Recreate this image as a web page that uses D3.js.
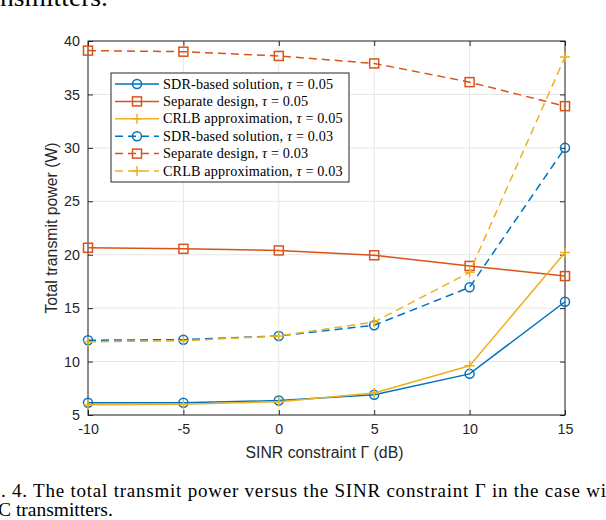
<!DOCTYPE html>
<html>
<head>
<meta charset="utf-8">
<script src="https://d3js.org/d3.v7.min.js"></script>
<style>
  body { margin: 0; background: #fff; }
  svg { display: block; }
</style>
</head>
<body>
<div id="chart"></div>
<script>
// SINR constraint (dB)
var snr = [-10, -5, 0, 5, 10, 15];

// total transmit power (W)
var sdr05  = [6.15, 6.15, 6.35, 6.9, 8.85, 15.6];
var sep05  = [20.65, 20.55, 20.4, 19.95, 18.95, 18.0];
var crlb05 = [5.95, 6.0, 6.25, 7.05, 9.6, 20.2];
var sdr03  = [12.0, 12.05, 12.4, 13.4, 16.95, 30.0];
var sep03  = [39.1, 39.0, 38.6, 37.9, 36.15, 33.9];
var crlb03 = [11.85, 11.95, 12.4, 13.7, 18.35, 38.5];

var xTicks = [-10, -5, 0, 5, 10, 15];
var yTicks = [5, 10, 15, 20, 25, 30, 35, 40];

var series = [
  {name: "SDR-based solution, ", tau: "0.05", values: sdr05,  color: "#0072BD", dash: null, marker: "circle"},
  {name: "Separate design, ",    tau: "0.05", values: sep05,  color: "#D95319", dash: null, marker: "square"},
  {name: "CRLB approximation, ", tau: "0.05", values: crlb05, color: "#EDB120", dash: null, marker: "plus"},
  {name: "SDR-based solution, ", tau: "0.03", values: sdr03,  color: "#0072BD", dash: "8,5", marker: "circle"},
  {name: "Separate design, ",    tau: "0.03", values: sep03,  color: "#D95319", dash: "8,5", marker: "square"},
  {name: "CRLB approximation, ", tau: "0.03", values: crlb03, color: "#EDB120", dash: "8,5", marker: "plus"}
];

var W = 606, H = 520;
var margin = {top: 41, right: 41, bottom: 105, left: 88};
var width = W - margin.left - margin.right;
var height = H - margin.top - margin.bottom;

var svg = d3.select("#chart").append("svg")
    .attr("width", W)
    .attr("height", H);

// caption fragments of the surrounding page (cut by the crop, as in the reference)
var serif = "'Liberation Serif', 'Times New Roman', serif";
svg.append("text")
    .attr("x", 0).attr("y", 6)
    .attr("textLength", 108).attr("lengthAdjust", "spacingAndGlyphs")
    .style("font-family", serif).style("font-size", "26px")
    .text("nsmitters.");
svg.append("text")
    .attr("x", 1).attr("y", 497)
    .attr("textLength", 605).attr("lengthAdjust", "spacing")
    .style("font-family", serif).style("font-size", "19px")
    .text(". 4. The total transmit power versus the SINR constraint \u0393 in the case wi");
svg.append("text")
    .attr("x", -2).attr("y", 516)
    .style("font-family", serif).style("font-size", "19.5px")
    .text("C transmitters.");

var g = svg.append("g")
    .attr("transform", "translate(" + margin.left + "," + margin.top + ")");

var x = d3.scaleLinear().domain([-10, 15]).range([0, width]);
var y = d3.scaleLinear().domain([5, 40]).range([height, 0]);

// grid
g.append("g").selectAll("line").data(xTicks).enter().append("line")
    .attr("x1", function(d) { return x(d); }).attr("x2", function(d) { return x(d); })
    .attr("y1", 0).attr("y2", height)
    .attr("stroke", "#e6e6e6").attr("stroke-width", 1);
g.append("g").selectAll("line").data(yTicks).enter().append("line")
    .attr("y1", function(d) { return y(d); }).attr("y2", function(d) { return y(d); })
    .attr("x1", 0).attr("x2", width)
    .attr("stroke", "#e6e6e6").attr("stroke-width", 1);

// axes (MATLAB style: ticks inside, box on)
var sans = "'Liberation Sans', Arial, sans-serif";
var axColor = "#262626";
var fmt = function(d) { return String(d); };

function styleAxis(sel) {
  sel.select(".domain").remove();
  sel.selectAll(".tick line").attr("stroke", axColor).attr("stroke-width", 1);
  sel.selectAll(".tick text").style("font-family", sans).style("font-size", "14.3px").attr("fill", axColor);
}

g.append("g").attr("transform", "translate(0," + height + ")")
    .call(d3.axisBottom(x).tickValues(xTicks).tickSizeInner(-5).tickSizeOuter(0).tickPadding(9).tickFormat(fmt))
    .call(styleAxis);
g.append("g")
    .call(d3.axisTop(x).tickValues(xTicks).tickSizeInner(-5).tickSizeOuter(0).tickFormat(""))
    .call(styleAxis);
g.append("g")
    .call(d3.axisLeft(y).tickValues(yTicks).tickSizeInner(-5).tickSizeOuter(0).tickPadding(8).tickFormat(fmt))
    .call(styleAxis);
g.append("g").attr("transform", "translate(" + width + ",0)")
    .call(d3.axisRight(y).tickValues(yTicks).tickSizeInner(-5).tickSizeOuter(0).tickFormat(""))
    .call(styleAxis);

g.append("rect")
    .attr("width", width).attr("height", height)
    .attr("fill", "none").attr("stroke", axColor).attr("stroke-width", 1);

// axis labels
g.append("text")
    .attr("x", width / 2 - 2).attr("y", height + 43)
    .attr("text-anchor", "middle")
    .style("font-family", sans).style("font-size", "15.8px").attr("fill", axColor)
    .text("SINR constraint \u0393 (dB)");
g.append("text")
    .attr("transform", "translate(-31," + (height / 2) + ") rotate(-90)")
    .attr("text-anchor", "middle")
    .style("font-family", sans).style("font-size", "15.8px").attr("fill", axColor)
    .text("Total transmit power (W)");

function drawMarker(sel, s, cx, cy) {
  if (s.marker === "circle") {
    sel.append("circle").attr("cx", cx).attr("cy", cy).attr("r", 4.5)
      .attr("fill", "none").attr("stroke", s.color).attr("stroke-width", 1.5);
  } else if (s.marker === "square") {
    sel.append("rect").attr("x", cx - 4.5).attr("y", cy - 4.5).attr("width", 9).attr("height", 9)
      .attr("fill", "none").attr("stroke", s.color).attr("stroke-width", 1.5);
  } else {
    sel.append("path").attr("d", "M" + (cx - 5) + "," + cy + "H" + (cx + 5) + "M" + cx + "," + (cy - 5) + "V" + (cy + 5))
      .attr("fill", "none").attr("stroke", s.color).attr("stroke-width", 1.5);
  }
}

var line = d3.line()
    .x(function(d, i) { return x(snr[i]); })
    .y(function(d) { return y(d); });

series.forEach(function(s) {
  var sg = g.append("g");
  sg.append("path")
    .attr("d", line(s.values))
    .attr("fill", "none")
    .attr("stroke", s.color)
    .attr("stroke-width", 1.5)
    .attr("stroke-dasharray", s.dash);
  s.values.forEach(function(v, i) {
    drawMarker(sg, s, x(snr[i]), y(v));
  });
});

// legend
var lg = svg.append("g").attr("transform", "translate(111,73)");
lg.append("rect")
    .attr("width", 238).attr("height", 109)
    .attr("fill", "#fff").attr("stroke", axColor).attr("stroke-width", 1);

series.forEach(function(s, i) {
  var cy = 11 + i * 17.4;
  var row = lg.append("g");
  row.append("line")
    .attr("x1", 4).attr("x2", 48).attr("y1", cy).attr("y2", cy)
    .attr("stroke", s.color).attr("stroke-width", 1.5)
    .attr("stroke-dasharray", s.dash);
  drawMarker(row, s, 26, cy);
  var t = row.append("text")
    .attr("x", 52).attr("y", cy + 4.5)
    .style("font-family", serif).style("font-size", "14.2px")
    .style("letter-spacing", "0.15px").attr("fill", "#000");
  t.append("tspan").text(s.name);
  t.append("tspan").style("font-style", "italic").text("\u03C4");
  t.append("tspan").text(" = " + s.tau);
});
</script>
</body>
</html>
